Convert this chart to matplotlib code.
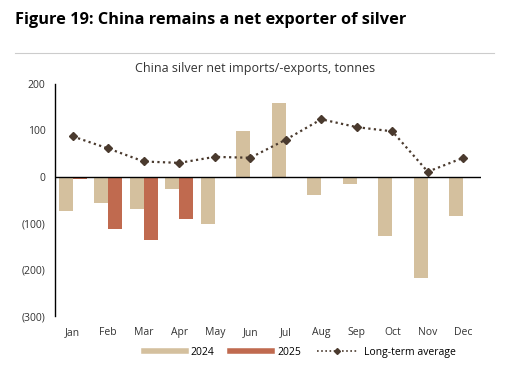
import matplotlib.pyplot as plt
import numpy as np
from matplotlib.lines import Line2D

plt.rcParams['font.family'] = ['Open Sans', 'DejaVu Sans']

months = ["Jan", "Feb", "Mar", "Apr", "May", "Jun",
          "Jul", "Aug", "Sep", "Oct", "Nov", "Dec"]
net_2024 = [-74, -57, -70, -26, -102, 98, 159, -39, -15, -128, -217, -85]
net_2025 = [-5, -113, -137, -91]
long_term_avg = [87, 61, 33, 30, 43, 41, 80, 124, 107, 98, 11, 41]
y_ticks = [200, 100, 0, -100, -200, -300]
y_labels = ["200", "100", "0", "(100)", "(200)", "(300)"]

c24 = "#D4C09E"
c25 = "#C06A4F"
cavg = "#4A3A2E"

fig = plt.figure(figsize=(5.08, 3.71), dpi=100)
fig.text(0.03, 0.945, "Figure 19: China remains a net exporter of silver",
         fontsize=11.8, fontweight="bold", ha="left", va="center")
fig.add_artist(Line2D([0.03, 0.972], [0.857, 0.857], color="#cccccc", lw=0.8))

ax = fig.add_axes([0.1083, 0.1482, 0.8386, 0.6254])
x = np.arange(len(months))
w = 0.4
ax.bar(x - w / 2, net_2024, width=w, color=c24, label="2024")
ax.bar(x[:len(net_2025)] + w / 2, net_2025, width=w, color=c25, label="2025")
ax.plot(x, long_term_avg, color=cavg, ls=(0, (1, 1.5)), lw=1.6,
        marker="D", ms=4.5, label="Long-term average")
ax.axhline(0, color="black", lw=1)

ax.set_xlim(-0.5, 11.5)
ax.set_ylim(-300, 200)
ax.set_yticks(y_ticks)
ax.set_yticklabels(y_labels, fontsize=7.5, color="#333333")
ax.set_xticks(x)
ax.set_xticklabels(months, fontsize=7.5, color="#333333")
ax.tick_params(axis="both", length=0)
ax.tick_params(axis="x", pad=8)
ax.tick_params(axis="y", pad=7)
for s in ["top", "right", "bottom"]:
    ax.spines[s].set_visible(False)
ax.spines["left"].set_linewidth(1)

ax.text(0.47, 1.04, "China silver net imports/-exports, tonnes", fontsize=9,
        color="#333333", ha="center", va="bottom", transform=ax.transAxes)

handles = [Line2D([], [], color=c24, lw=4),
           Line2D([], [], color=c25, lw=4),
           Line2D([], [], color=cavg, ls=(0, (1, 1.5)), lw=1.2, marker="D", ms=3)]
fig.legend(handles, ["2024", "2025", "Long-term average"], loc="center",
           bbox_to_anchor=(0.59, 0.05), ncol=3, frameon=False, fontsize=7.5,
           handlelength=4, handletextpad=0.5, columnspacing=1.5)

fig.savefig("out.png", dpi=100)
